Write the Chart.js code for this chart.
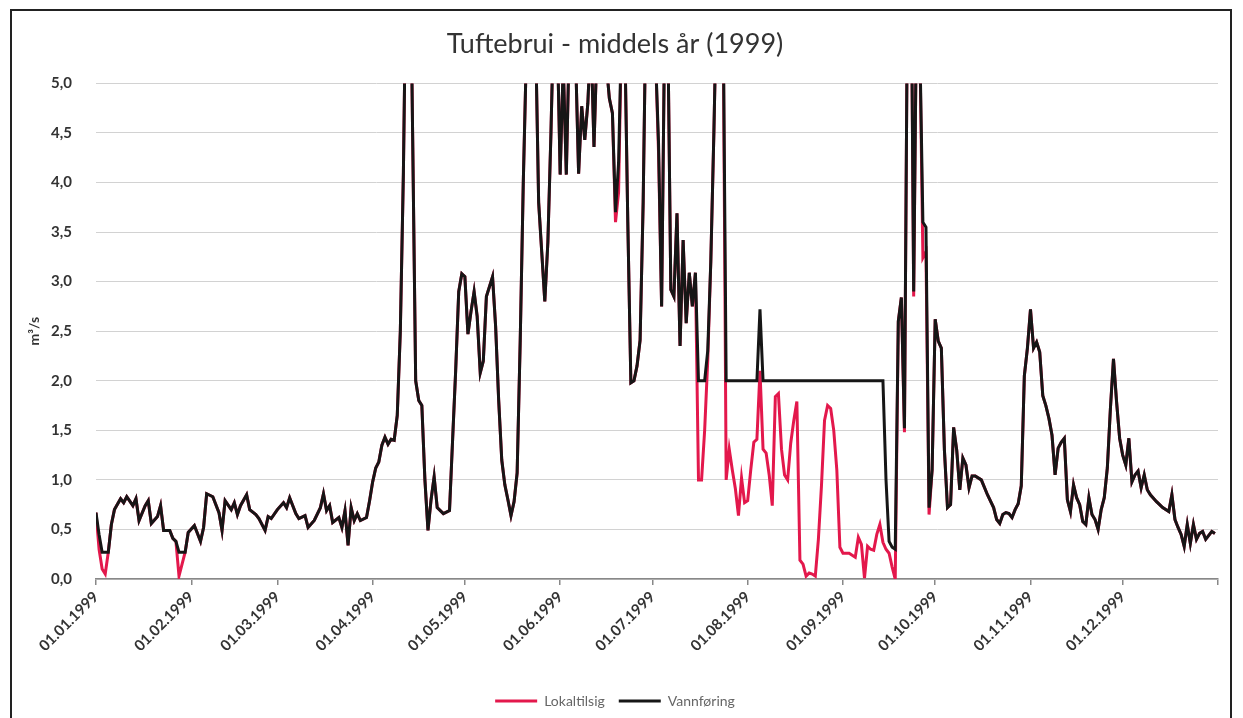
<!DOCTYPE html>
<html>
<head>
<meta charset="utf-8">
<script src="https://cdn.jsdelivr.net/npm/chart.js@4.4.1/dist/chart.umd.min.js"></script>
<style>
  html, body { margin: 0; padding: 0; background: #fff; }
  #wrap { position: relative; width: 1243px; height: 718px; overflow: hidden; }
  #myChart { position: absolute; left: 0; top: 0; }
  #frame { position: absolute; left: 10px; top: 9px; width: 1222px; height: 740px; border: 2px solid #222; box-sizing: border-box; pointer-events: none; }
</style>
</head>
<body>
<div id="wrap">
  <canvas id="myChart" width="1243" height="718"></canvas>
  <div id="frame"></div>
</div>
<script>
// day of year (0 = 01.01.1999)
const days = [
  0, 1, 2, 3, 4, 5, 6, 8, 9, 10, 12, 13, 14, 16, 17, 18, 20, 21, 22, 24, 25, 26, 27, 28, 29, 30,
  32, 34, 35, 36, 38, 40, 41, 42, 44, 45, 46, 47, 49, 50, 52, 53, 55, 56, 57,
  59, 61, 62, 63, 65, 66, 68, 69, 71, 73, 74, 75, 76, 77, 79, 80, 81, 82, 83, 84, 85, 86, 88, 89,
  90, 91, 92, 93, 94, 95, 96, 97, 98, 99, 100, 101, 102, 103, 104, 105, 106, 107, 108, 109, 110, 111, 113, 115, 116, 117, 118, 119,
  120, 121, 122, 123, 124, 125, 126, 127, 129, 130, 131, 132, 133, 134, 135, 136, 137, 138, 139, 140, 141, 142, 143, 144, 145, 146, 147, 148, 149,
  150, 151, 152, 153, 154, 155, 156, 157, 158, 159, 160, 161, 162, 163, 164, 165, 166, 167, 168, 169, 170, 171, 172, 173, 174, 175, 176, 177, 178, 179, 180,
  181, 182, 183, 184, 185, 186, 187, 188, 189, 190, 191, 192, 193, 194, 195, 196, 197, 198, 199, 200, 201, 202, 203, 204, 205, 206, 207, 208, 209, 210, 211,
  212, 213, 214, 215, 216, 217, 218, 219, 220, 221, 222, 223, 224, 225, 226, 227, 228, 229, 230, 231, 232, 233, 234, 235, 236, 237, 238, 239, 240, 241, 242,
  243, 244, 245, 246, 247, 248, 249, 250, 251, 252, 253, 254, 255, 256, 257, 258, 259, 260, 261, 262, 263, 264, 265, 266, 267, 268, 269, 270, 271, 272,
  273, 274, 275, 276, 277, 278, 279, 280, 281, 282, 283, 284, 285, 286, 288, 290, 292, 293, 294, 295, 296, 297, 298, 299, 300, 301, 302, 303,
  304, 305, 306, 307, 308, 309, 310, 311, 312, 313, 314, 315, 316, 317, 318, 319, 320, 321, 322, 323, 324, 325, 326, 327, 328, 329, 330, 331, 332, 333,
  334, 335, 336, 337, 338, 339, 340, 341, 342, 343, 345, 347, 349, 350, 351, 352, 353, 354, 355, 356, 357, 358, 359, 360, 361, 362, 363, 364
];

// m3/s
const vannforing = [
  0.67, 0.45, 0.27, 0.27, 0.27, 0.55, 0.70, 0.81, 0.77, 0.83, 0.74, 0.81, 0.59, 0.74, 0.79, 0.56, 0.63, 0.74, 0.49, 0.49, 0.41, 0.38, 0.27, 0.27, 0.27, 0.47,
  0.54, 0.38, 0.52, 0.86, 0.83, 0.67, 0.49, 0.79, 0.70, 0.77, 0.65, 0.74, 0.85, 0.70, 0.65, 0.61, 0.49, 0.63, 0.61,
  0.70, 0.77, 0.72, 0.82, 0.66, 0.61, 0.64, 0.52, 0.59, 0.72, 0.86, 0.69, 0.74, 0.57, 0.62, 0.52, 0.69, 0.34, 0.72, 0.59, 0.66, 0.59, 0.62, 0.79,
  0.98, 1.12, 1.18, 1.35, 1.43, 1.36, 1.41, 1.40, 1.65, 2.50, 4.10, 6.50, 7.00, 4.50, 2.00, 1.80, 1.75, 1.00, 0.49, 0.80, 1.03, 0.72, 0.66, 0.69, 1.40, 2.10, 2.90, 3.08,
  3.05, 2.47, 2.70, 2.90, 2.65, 2.08, 2.20, 2.85, 3.05, 2.55, 1.80, 1.20, 0.95, 0.80, 0.64, 0.78, 1.07, 2.40, 4.00, 5.30, 7.00, 6.50, 5.50, 3.80, 3.30, 2.80, 3.40, 4.50, 5.80,
  5.60, 4.08, 5.20, 4.08, 5.50, 6.00, 5.30, 4.09, 4.77, 4.43, 4.80, 5.50, 4.36, 5.40, 6.00, 5.60, 5.20, 4.85, 4.70, 3.70, 4.20, 5.60, 5.50, 3.60, 1.98, 2.00, 2.15, 2.41, 3.80, 6.00, 7.00,
  6.00, 5.30, 4.40, 2.75, 5.60, 5.60, 2.92, 2.85, 3.69, 2.35, 3.42, 2.58, 3.09, 2.75, 3.09, 2.00, 2.00, 2.00, 2.30, 3.20, 4.50, 6.00, 7.00, 5.80, 2.00, 2.00, 2.00, 2.00, 2.00, 2.00, 2.00,
  2.00, 2.00, 2.00, 2.00, 2.72, 2.00, 2.00, 2.00, 2.00, 2.00, 2.00, 2.00, 2.00, 2.00, 2.00, 2.00, 2.00, 2.00, 2.00, 2.00, 2.00, 2.00, 2.00, 2.00, 2.00, 2.00, 2.00, 2.00, 2.00, 2.00, 2.00,
  2.00, 2.00, 2.00, 2.00, 2.00, 2.00, 2.00, 2.00, 2.00, 2.00, 2.00, 2.00, 2.00, 2.00, 1.00, 0.38, 0.32, 0.30, 2.60, 2.84, 1.52, 6.00, 7.00, 2.90, 6.00, 5.40, 3.60, 3.55, 0.72, 1.10,
  2.62, 2.40, 2.33, 1.30, 0.72, 0.75, 1.53, 1.30, 0.90, 1.22, 1.15, 0.92, 1.04, 1.04, 1.00, 0.85, 0.72, 0.60, 0.56, 0.65, 0.67, 0.66, 0.62, 0.70, 0.76, 0.94, 2.05, 2.33,
  2.72, 2.33, 2.39, 2.29, 1.85, 1.75, 1.62, 1.45, 1.05, 1.32, 1.38, 1.42, 0.80, 0.68, 0.95, 0.82, 0.75, 0.58, 0.55, 0.82, 0.65, 0.60, 0.50, 0.70, 0.82, 1.12, 1.72, 2.22, 1.79, 1.42,
  1.25, 1.15, 1.42, 0.98, 1.05, 1.09, 0.92, 1.05, 0.90, 0.85, 0.78, 0.72, 0.68, 0.85, 0.60, 0.52, 0.45, 0.33, 0.55, 0.36, 0.55, 0.40, 0.46, 0.48, 0.40, 0.44, 0.48, 0.46
];

const lokaltilsig = [
  0.67, 0.30, 0.10, 0.05, 0.27, 0.55, 0.70, 0.81, 0.77, 0.83, 0.74, 0.81, 0.59, 0.74, 0.79, 0.56, 0.63, 0.74, 0.49, 0.49, 0.41, 0.38, 0.03, 0.15, 0.27, 0.47,
  0.54, 0.38, 0.52, 0.86, 0.83, 0.67, 0.49, 0.79, 0.70, 0.77, 0.65, 0.74, 0.85, 0.70, 0.65, 0.61, 0.49, 0.63, 0.61,
  0.70, 0.77, 0.72, 0.82, 0.66, 0.61, 0.64, 0.52, 0.59, 0.72, 0.86, 0.69, 0.74, 0.57, 0.62, 0.52, 0.69, 0.34, 0.72, 0.59, 0.66, 0.59, 0.62, 0.79,
  0.98, 1.12, 1.18, 1.35, 1.43, 1.36, 1.41, 1.40, 1.65, 2.50, 4.10, 6.50, 7.00, 4.50, 2.00, 1.80, 1.75, 1.00, 0.49, 0.80, 1.03, 0.72, 0.66, 0.69, 1.40, 2.10, 2.90, 3.08,
  3.05, 2.47, 2.70, 2.90, 2.65, 2.08, 2.20, 2.85, 3.05, 2.55, 1.80, 1.20, 0.95, 0.80, 0.64, 0.78, 1.07, 2.40, 4.00, 5.30, 7.00, 6.50, 5.50, 3.80, 3.30, 2.80, 3.40, 4.50, 5.80,
  5.60, 4.08, 5.20, 4.08, 5.50, 6.00, 5.30, 4.09, 4.77, 4.43, 4.80, 5.50, 4.36, 5.40, 6.00, 5.60, 5.20, 4.85, 4.70, 3.60, 3.90, 5.60, 5.50, 3.60, 1.98, 2.00, 2.15, 2.41, 3.80, 6.00, 7.00,
  6.00, 5.30, 4.30, 2.75, 5.60, 5.60, 2.92, 2.85, 3.69, 2.35, 3.42, 2.58, 3.09, 2.75, 3.09, 1.00, 1.00, 1.50, 2.20, 3.20, 4.50, 6.00, 7.00, 5.80, 1.00, 1.31, 1.10, 0.91, 0.64, 1.02, 0.77,
  0.79, 1.10, 1.38, 1.41, 2.10, 1.31, 1.27, 1.05, 0.74, 1.84, 1.87, 1.31, 1.05, 1.00, 1.37, 1.60, 1.79, 0.19, 0.15, 0.03, 0.06, 0.05, 0.03, 0.40, 0.94, 1.60, 1.75, 1.72, 1.50, 1.10, 0.32,
  0.26, 0.26, 0.26, 0.24, 0.22, 0.42, 0.35, 0.01, 0.33, 0.30, 0.29, 0.45, 0.55, 0.37, 0.30, 0.26, 0.12, 0.00, 2.60, 2.84, 1.48, 6.00, 7.00, 2.85, 6.00, 5.40, 3.24, 3.30, 0.65, 1.10,
  2.62, 2.40, 2.33, 1.30, 0.72, 0.75, 1.53, 1.30, 0.90, 1.22, 1.15, 0.92, 1.04, 1.04, 1.00, 0.85, 0.72, 0.60, 0.56, 0.65, 0.67, 0.66, 0.62, 0.70, 0.76, 0.94, 2.05, 2.33,
  2.72, 2.33, 2.39, 2.29, 1.85, 1.75, 1.62, 1.45, 1.05, 1.32, 1.38, 1.42, 0.80, 0.68, 0.95, 0.82, 0.75, 0.58, 0.55, 0.82, 0.65, 0.60, 0.50, 0.70, 0.82, 1.12, 1.72, 2.22, 1.79, 1.42,
  1.25, 1.15, 1.42, 0.98, 1.05, 1.09, 0.92, 1.05, 0.90, 0.85, 0.78, 0.72, 0.68, 0.85, 0.60, 0.52, 0.45, 0.33, 0.55, 0.36, 0.55, 0.40, 0.46, 0.48, 0.40, 0.44, 0.48, 0.46
];

// x axis: first day of each month (+ end of year, no label)
const monthStarts = [0, 31, 59, 90, 120, 151, 181, 212, 243, 273, 304, 334, 365];
const monthLabels = ['01.01.1999', '01.02.1999', '01.03.1999', '01.04.1999', '01.05.1999', '01.06.1999',
  '01.07.1999', '01.08.1999', '01.09.1999', '01.10.1999', '01.11.1999', '01.12.1999', ''];

const toPoints = vals => days.map((d, i) => ({ x: d, y: vals[i] }));
const txt = '#333';

const ctx = document.getElementById('myChart');
const myChart = new Chart(ctx, {
  type: 'line',
  data: {
    datasets: [
      {
        label: 'Lokaltilsig',
        data: toPoints(lokaltilsig),
        borderColor: '#e3184c',
        backgroundColor: '#e3184c',
        borderWidth: 3,
        pointRadius: 0,
        tension: 0,
        order: 1
      },
      {
        label: 'Vannføring',
        data: toPoints(vannforing),
        borderColor: '#161616',
        backgroundColor: '#161616',
        borderWidth: 3,
        pointRadius: 0,
        tension: 0,
        order: 0
      }
    ]
  },
  options: {
    responsive: false,
    animation: false,
    devicePixelRatio: 1,
    layout: { padding: { left: 12, right: 25, top: 14, bottom: 0 } },
    plugins: {
      title: {
        display: true,
        text: 'Tuftebrui - middels år (1999)',
        color: '#333',
        font: { family: 'Lato', size: 27, weight: 'normal' },
        padding: { top: 14, bottom: 23 }
      },
      legend: {
        position: 'bottom',
        fullSize: true,
        labels: {
          usePointStyle: true,
          pointStyle: 'line',
          pointStyleWidth: 42,
          boxHeight: 10,
          color: '#666',
          font: { family: 'Lato', size: 14 },
          padding: 14,
          sort: (a, b) => a.datasetIndex - b.datasetIndex
        }
      },
      tooltip: { enabled: false }
    },
    scales: {
      x: {
        type: 'linear',
        min: 0,
        max: 365,
        afterBuildTicks: scale => { scale.ticks = monthStarts.map(v => ({ value: v })); },
        afterFit: scale => { scale.height = 101; },
        ticks: {
          autoSkip: false,
          minRotation: 45,
          maxRotation: 45,
          color: txt,
          font: { family: 'Lato', size: 15, weight: 'bold' },
          callback: (v, i) => monthLabels[i]
        },
        grid: { drawOnChartArea: false, drawTicks: true, tickLength: 6, color: '#888', lineWidth: 1.5 },
        border: { color: '#888', width: 1.5 }
      },
      y: {
        min: 0,
        max: 5,
        afterFit: scale => { scale.width = 84; },
        ticks: {
          stepSize: 0.5,
          color: txt,
          padding: 24,
          font: { family: 'Lato', size: 15, weight: 'bold' },
          callback: v => v.toFixed(1).replace('.', ',')
        },
        grid: { color: '#d2d2d2', drawTicks: false },
        border: { display: false },
        title: {
          display: true,
          text: 'm³/s',
          color: txt,
          font: { family: 'Lato', size: 14, weight: 'bold' },
          padding: { top: 14, bottom: 0 }
        }
      }
    }
  }
});
</script>
</body>
</html>
